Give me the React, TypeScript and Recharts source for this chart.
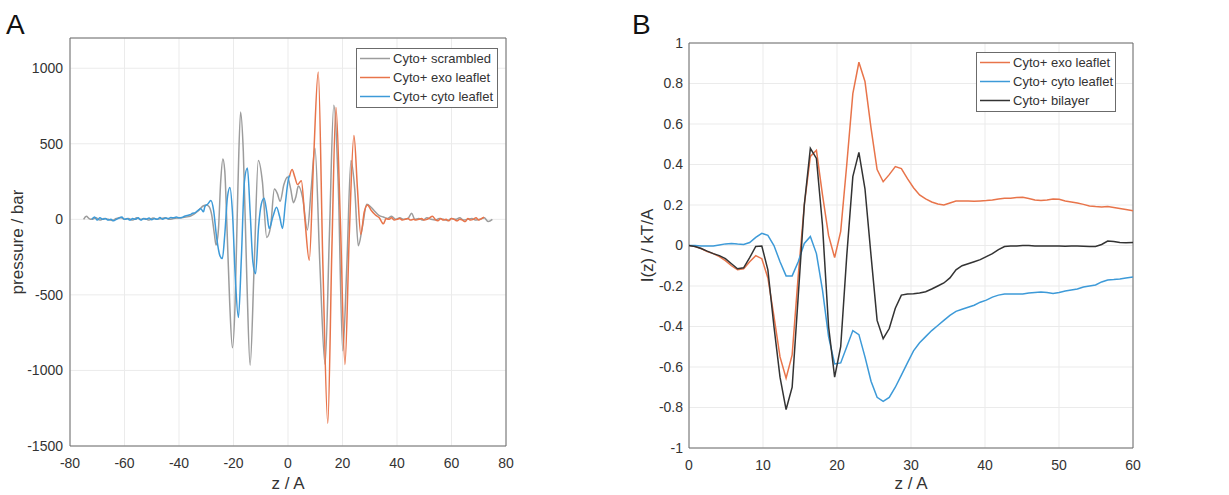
import React from 'react';
import { LineChart, Line, XAxis, YAxis, CartesianGrid, ReferenceArea } from 'recharts';

const FONT = '"Liberation Sans", Arial, Helvetica, sans-serif';
const TEXT = '#333333';
const GRID = '#ebebeb';
const BOX = '#6b6b6b';

const GRAY = '#9c9c9c';
const ORANGE = '#e8744a';
const BLUE = '#3d9ad8';
const BLACK = '#333333';

// ---------- panel A: lateral pressure profile ----------
const xTicksA = [-80, -60, -40, -20, 0, 20, 40, 60, 80];
const yTicksA = [-1500, -1000, -500, 0, 500, 1000];

// [z, pressure]
const scrambledA: [number, number][] = [
  [-75, 0], [-74, 20], [-73, 5], [-72, 0], [-70.5, 10], [-69, -5], [-67.5, 5], [-66, 0],
  [-64.5, -8], [-63, 5], [-61.5, 12], [-60, 0], [-58.5, 5], [-57, -5], [-55.5, 10], [-54, 0],
  [-52.5, 5], [-51, -5], [-49.5, 8], [-48, 0], [-46.5, 5], [-45, 10], [-43.5, 0], [-42, 5],
  [-40.5, 8], [-39, 10], [-37.5, 15], [-36, 20], [-34.5, 35], [-33, 55], [-32, 75], [-31, 90],
  [-30, 95], [-29, 85], [-28, 30], [-27, -100], [-26.4, -170], [-25.5, -60], [-24.7, 250],
  [-23.9, 400], [-23.2, 320], [-22.4, -50], [-21.4, -550], [-20.4, -850], [-19.4, -550],
  [-18.4, 200], [-17.4, 710], [-16.4, 450], [-15.1, -400], [-13.9, -965], [-12.4, -300],
  [-10.9, 390], [-9.4, 250], [-7.8, -120], [-6.4, -50], [-5, 200], [-3.9, 170], [-2.9, 120],
  [-1.5, 230], [-0.2, 280], [1, 200], [2, 110], [2.9, 150], [3.8, 220], [5.4, 140], [7.1, -70],
  [8.5, 200], [9.9, 470], [11.7, -300], [13.6, -960], [15.2, -100], [16.8, 755], [18.4, 250],
  [20.1, -870], [21.6, -300], [23.1, 390], [24.5, 200], [25.8, -175], [27.3, -50], [28.9, 100],
  [30.5, 80], [32, 50], [33.5, 25], [35, 15], [36.5, 5], [38, 20], [39.5, 0], [41, 10],
  [42.5, 0], [44, 5], [45.4, 40], [46.5, 0], [48, 5], [49.5, -5], [51, 10], [52.5, 0], [54, -5],
  [55.5, 5], [57, 0], [58.5, -8], [60, 5], [61.5, 0], [63, 10], [64.5, -5], [66, 0], [67.5, 5],
  [69, -5], [70.5, 0], [72, 10], [73.5, -15], [75, 0],
];

const exoA: [number, number][] = [
  [0.5, 280], [1.5, 330], [2.5, 280], [3.5, 230], [4.9, 255], [6.2, 0], [7.8, -270], [9.4, 400],
  [11.1, 975], [12.8, -300], [14.6, -1350], [16.1, -200], [17.6, 740], [19.2, 0], [20.9, -960],
  [22.5, -100], [24.2, 555], [25.5, 200], [26.7, -100], [28, 50], [29.2, 95], [30.5, 60],
  [32, 30], [33.5, 10], [35, -30], [36, 5], [37, 0], [38, 10], [39, -5], [40, 0], [41, 5],
  [42, -5], [43, 0], [44, 5], [45, -5], [46, 0], [47, -5], [48, 0], [49, 5], [50, -5], [51, 0],
  [52, 10], [53, 20], [54, 0], [55, -10], [56, 5], [57, -5], [58, 0], [59, -10], [60, 5], [61, 0],
  [62, -10], [63, 0], [64, -5], [65, -15], [66, 5], [67, -5], [68, 0], [69, 10], [70, -5],
  [71, 5], [72, 15],
];

const cytoA: [number, number][] = [
  [-72, 0], [-71, 15], [-70, -5], [-69, 10], [-68, 0], [-67, 5], [-66, -5], [-65, 0], [-64, -10],
  [-63, 0], [-62, 8], [-61, 15], [-60, 0], [-59, 5], [-58, -5], [-57, 5], [-56, 0], [-55, 10],
  [-54, -5], [-53, 5], [-52, 0], [-51, 8], [-50, -2], [-49, 5], [-48, 0], [-47, 12], [-46, 0],
  [-45, 8], [-44, 5], [-43, 12], [-42, 10], [-41, 15], [-40, 10], [-39, 12], [-38, 20],
  [-37, 25], [-36, 30], [-35, 40], [-34, 45], [-33, 60], [-32, 70], [-31, 50], [-30.5, 85],
  [-29.5, 100], [-28.3, 125], [-27.3, 60], [-26.2, -120], [-25, -240], [-24.1, -260],
  [-23.2, -100], [-22.2, 150], [-21.3, 210], [-20.4, 50], [-19.3, -400], [-18.2, -650],
  [-17.1, -250], [-16, 250], [-14.9, 340], [-13.9, 50], [-12.9, -280], [-11.9, -360],
  [-10.8, -50], [-9.8, 100], [-8.8, 140], [-7.8, 50], [-6.9, -60], [-5.5, 20], [-4.2, 80],
  [-3.1, 20], [-2, -60], [-1, 100], [0, 250], [0.5, 290],
];

// ---------- panel B: I(z) ----------
const xTicksB = [0, 10, 20, 30, 40, 50, 60];
const yTicksB = [-1, -0.8, -0.6, -0.4, -0.2, 0, 0.2, 0.4, 0.6, 0.8, 1];

const zB = [
  0, 0.82, 1.64, 2.46, 3.28, 4.1, 4.92, 5.74, 6.56, 7.38,
  8.2, 9.02, 9.84, 10.66, 11.48, 12.3, 13.12, 13.94, 14.76, 15.58,
  16.4, 17.22, 18.04, 18.86, 19.68, 20.5, 21.32, 22.14, 22.96, 23.78,
  24.6, 25.42, 26.24, 27.06, 27.88, 28.7, 29.52, 30.34, 31.16, 31.98,
  32.8, 33.62, 34.44, 35.26, 36.08, 36.9, 37.72, 38.54, 39.36, 40.18,
  41, 41.82, 42.64, 43.46, 44.28, 45.1, 45.92, 46.74, 47.56, 48.38,
  49.2, 50.02, 50.84, 51.66, 52.48, 53.3, 54.12, 54.94, 55.76, 56.58,
  57.4, 58.22, 59.04, 60,
];

const exoB = [
  0, -0.005, -0.015, -0.03, -0.04, -0.055, -0.075, -0.1, -0.12, -0.115,
  -0.08, -0.05, -0.065, -0.16, -0.35, -0.55, -0.655, -0.54, -0.15, 0.2,
  0.44, 0.47, 0.25, 0.05, -0.06, 0.07, 0.4, 0.75, 0.905, 0.81,
  0.58, 0.375, 0.315, 0.35, 0.39, 0.38, 0.33, 0.285, 0.25, 0.23,
  0.215, 0.205, 0.2, 0.21, 0.22, 0.22, 0.22, 0.218, 0.22, 0.222,
  0.225, 0.23, 0.233, 0.233, 0.237, 0.238, 0.232, 0.225, 0.222, 0.225,
  0.23, 0.228, 0.22, 0.215, 0.21, 0.203, 0.195, 0.192, 0.19, 0.192,
  0.188, 0.183, 0.178, 0.172,
];

const cytoB = [
  0, 0, -0.002, -0.003, -0.002, 0.003, 0.008, 0.01, 0.007, 0.005,
  0.015, 0.04, 0.06, 0.05, 0.0, -0.08, -0.15, -0.15, -0.08, 0.01,
  0.045, -0.04, -0.22, -0.45, -0.585, -0.58, -0.5, -0.42, -0.44, -0.55,
  -0.67, -0.75, -0.77, -0.75, -0.7, -0.64, -0.58, -0.52, -0.48, -0.45,
  -0.42, -0.395, -0.37, -0.345, -0.325, -0.315, -0.305, -0.295, -0.28, -0.27,
  -0.255, -0.245, -0.24, -0.24, -0.24, -0.24, -0.235, -0.232, -0.23, -0.232,
  -0.237, -0.232, -0.225, -0.22, -0.215, -0.205, -0.2, -0.195, -0.18, -0.17,
  -0.168, -0.165, -0.16, -0.155,
];

const bilayerB = [
  0, -0.005, -0.015, -0.028, -0.04, -0.05, -0.065, -0.09, -0.115, -0.11,
  -0.06, -0.005, -0.003, -0.12, -0.4, -0.65, -0.81, -0.7, -0.25, 0.2,
  0.48, 0.43, 0.1, -0.4, -0.65, -0.5, -0.05, 0.34, 0.46, 0.28,
  -0.05, -0.37, -0.46, -0.41, -0.31, -0.245, -0.24, -0.238, -0.235, -0.228,
  -0.215, -0.2, -0.185, -0.16, -0.12, -0.1, -0.09, -0.08, -0.07, -0.055,
  -0.04, -0.02, -0.005, -0.003, -0.002, 0, 0, -0.003, -0.003, -0.003,
  -0.002, -0.003, -0.004, -0.003, -0.003, -0.004, -0.005, -0.005, 0.005, 0.022,
  0.02, 0.015, 0.013, 0.015,
];

const toPoints = (pts: [number, number][]) => pts.map(([z, p]) => ({ z, p }));
const dataB = zB.map((z, i) => ({ z, exo: exoB[i], cyto: cytoB[i], bilayer: bilayerB[i] }));

const tickStyle = { fill: TEXT, fontSize: 14, fontFamily: FONT };
const labelStyle = { fill: TEXT, fontSize: 17, fontFamily: FONT };

type LegendItem = { name: string; color: string };

const LegendBox = ({ left, top, width, items }: { left: number; top: number; width: number; items: LegendItem[] }) => (
  <div
    style={{
      position: 'absolute',
      left,
      top,
      width,
      background: '#fff',
      border: `1px solid ${BOX}`,
      boxSizing: 'border-box',
      padding: '0 0 1px 0',
      fontFamily: FONT,
      fontSize: 13,
      color: TEXT,
    }}
  >
    {items.map((it) => (
      <div key={it.name} style={{ display: 'flex', alignItems: 'center', height: 19, whiteSpace: 'nowrap' }}>
        <svg width={33} height={19} style={{ marginLeft: 3 }}>
          <line x1={0} x2={30} y1={9.5} y2={9.5} stroke={it.color} strokeWidth={1.5} />
        </svg>
        <span>{it.name}</span>
      </div>
    ))}
  </div>
);

const PanelLetter = ({ left, text }: { left: number; text: string }) => (
  <div style={{ position: 'absolute', left, top: 11, fontFamily: FONT, fontSize: 28, lineHeight: '28px', color: '#111' }}>
    {text}
  </div>
);

export default function App() {
  return (
    <div style={{ position: 'absolute', left: 0, top: 0, width: 1229, height: 495, background: '#fff', overflow: 'hidden' }}>
      <PanelLetter left={6} text="A" />
      <PanelLetter left={632} text="B" />

      <div style={{ position: 'absolute', left: 0, top: 0 }}>
        <LineChart width={520} height={495} margin={{ top: 38, right: 14, bottom: 0, left: 0 }}>
          <CartesianGrid stroke={GRID} />
          <XAxis
            type="number"
            dataKey="z"
            domain={[-80, 80]}
            ticks={xTicksA}
            height={49}
            axisLine={false}
            tickLine={false}
            tickSize={6}
            tickMargin={6}
            tick={tickStyle}
            allowDuplicatedCategory={false}
            label={{ value: 'z / A', position: 'insideBottom', offset: 6, style: labelStyle }}
          />
          <YAxis
            type="number"
            domain={[-1500, 1200]}
            ticks={yTicksA}
            width={70}
            axisLine={false}
            tickLine={false}
            tickSize={4}
            tickMargin={3}
            tick={tickStyle}
            label={{ value: 'pressure / bar', angle: -90, position: 'insideLeft', offset: 17, style: { ...labelStyle, textAnchor: 'middle' } }}
          />
          <ReferenceArea x1={-80} x2={80} y1={-1500} y2={1200} fill="none" stroke={BOX} strokeWidth={1} />
          <Line data={toPoints(scrambledA)} dataKey="p" type="monotone" stroke={GRAY} strokeWidth={1.5} dot={false} isAnimationActive={false} />
          <Line data={toPoints(exoA)} dataKey="p" type="monotone" stroke={ORANGE} strokeWidth={1.5} dot={false} isAnimationActive={false} />
          <Line data={toPoints(cytoA)} dataKey="p" type="monotone" stroke={BLUE} strokeWidth={1.5} dot={false} isAnimationActive={false} />
        </LineChart>
      </div>
      <LegendBox
        left={356}
        top={48}
        width={142}
        items={[
          { name: 'Cyto+ scrambled', color: GRAY },
          { name: 'Cyto+ exo leaflet', color: ORANGE },
          { name: 'Cyto+ cyto leaflet', color: BLUE },
        ]}
      />

      <div style={{ position: 'absolute', left: 610, top: 0 }}>
        <LineChart width={540} height={495} data={dataB} margin={{ top: 43, right: 17, bottom: 0, left: 0 }}>
          <CartesianGrid stroke={GRID} />
          <XAxis
            type="number"
            dataKey="z"
            domain={[0, 60]}
            ticks={xTicksB}
            height={47}
            axisLine={false}
            tickLine={false}
            tickSize={6}
            tickMargin={6}
            tick={tickStyle}
            label={{ value: 'z / A', position: 'insideBottom', offset: 6, style: labelStyle }}
          />
          <YAxis
            type="number"
            domain={[-1, 1]}
            ticks={yTicksB}
            width={79}
            axisLine={false}
            tickLine={false}
            tickSize={3}
            tickMargin={3}
            tick={tickStyle}
            tickFormatter={(v: number) => String(parseFloat(v.toFixed(1)))}
            label={{ value: 'I(z) / kT/A', angle: -90, position: 'insideLeft', offset: 37, style: { ...labelStyle, textAnchor: 'middle' } }}
          />
          <ReferenceArea x1={0} x2={60} y1={-1} y2={1} fill="none" stroke={BOX} strokeWidth={1} />
          <Line dataKey="exo" type="linear" stroke={ORANGE} strokeWidth={1.5} dot={false} isAnimationActive={false} />
          <Line dataKey="cyto" type="linear" stroke={BLUE} strokeWidth={1.5} dot={false} isAnimationActive={false} />
          <Line dataKey="bilayer" type="linear" stroke={BLACK} strokeWidth={1.5} dot={false} isAnimationActive={false} />
        </LineChart>
      </div>
      <LegendBox
        left={976}
        top={52}
        width={140}
        items={[
          { name: 'Cyto+ exo leaflet', color: ORANGE },
          { name: 'Cyto+ cyto leaflet', color: BLUE },
          { name: 'Cyto+ bilayer', color: BLACK },
        ]}
      />
    </div>
  );
}
